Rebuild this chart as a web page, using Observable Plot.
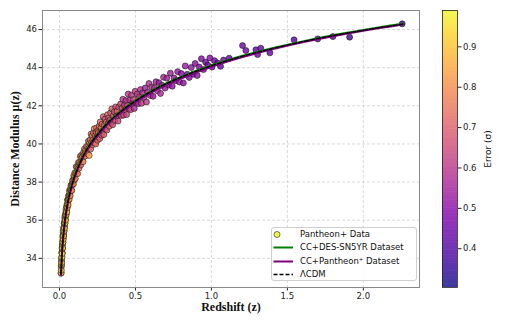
<!DOCTYPE html>
<html>
<head>
<meta charset="utf-8">
<script src="https://cdn.jsdelivr.net/npm/d3@7"></script>
<script src="https://cdn.jsdelivr.net/npm/@observablehq/plot@0.6"></script>
<style>
  html, body { margin: 0; padding: 0; background: #fff; }
  #wrap { position: relative; width: 523px; height: 327px; overflow: hidden; background: #fff; }
  #main, #cbar { position: absolute; top: 0; }
  #main { left: 0; }
  #cbar { left: 430px; }
  #legend { position: absolute; left: 271px; top: 227px; width: 146px; height: 54px;
    border: 1px solid #cfcfcf; border-radius: 3px; background: rgba(255,255,255,0.85);
    font-family: "DejaVu Sans", sans-serif; font-size: 8.5px; color: #111; box-sizing: border-box; }
  .row { position: absolute; left: 0; height: 13px; line-height: 13px; white-space: nowrap; }
  .row svg { position: absolute; left: 0; top: 0; }
  .row span { position: absolute; left: 28px; top: 0; }
</style>
</head>
<body>
<div id="wrap">
  <div id="main"></div>
  <div id="cbar"></div>
  <div id="legend"></div>
</div>
<script>
// ---------------- data (Pantheon+ points) ----------------
const zData = [
 0.0102,0.0108,0.0112,0.0118,0.0121,0.0127,0.0131,0.0138,0.0142,0.0149,
 0.0153,0.0158,0.0163,0.0169,0.0172,0.0178,0.0183,0.0188,0.0192,0.0199,
 0.0204,0.0211,0.0216,0.0222,0.0228,0.0235,0.0241,0.0247,0.0252,0.0259,
 0.0264,0.0271,0.0277,0.0283,0.0289,0.0296,0.0302,0.0309,0.0315,0.0322,
 0.0329,0.0336,0.0343,0.0351,0.0358,0.0366,0.0374,0.0382,0.0391,0.0399,
 0.0408,0.0417,0.0426,0.0435,0.0445,0.0455,0.0466,0.0477,0.0488,
 0.0501,0.0513,0.0526,0.0538,0.0551,0.0565,0.0578,0.0592,0.0607,0.0621,
 0.0636,0.0652,0.0668,0.0684,0.0701,0.0718,0.0736,0.0754,0.0773,0.0792,
 0.0811,0.0831,0.0852,0.0873,0.0894,0.0916,0.0939,0.0962,0.0986,
 0.101,0.104,0.107,0.110,0.113,0.116,0.119,0.122,0.125,0.128,
 0.131,0.134,0.137,0.140,0.143,0.146,0.149,0.152,0.155,0.158,
 0.161,0.164,0.167,0.170,0.174,0.178,0.182,0.186,0.190,0.194,
 0.195,0.198,
 0.202,0.205,0.208,0.211,0.214,0.217,0.220,0.223,0.226,0.229,
 0.232,0.235,0.238,0.241,0.244,0.247,0.250,0.253,0.256,0.259,
 0.262,0.265,0.268,0.271,0.274,0.277,0.280,0.284,0.288,0.292,
 0.296,0.300,0.304,0.308,0.312,0.316,0.320,0.324,0.328,0.332,
 0.336,0.340,0.345,0.350,0.355,0.360,0.365,0.370,0.375,0.380,
 0.385,0.390,0.395,
 0.402,0.407,0.412,0.417,0.422,0.427,0.432,0.437,0.442,0.447,
 0.452,0.457,0.462,0.468,0.474,0.480,0.486,0.492,0.498,0.505,
 0.512,0.519,0.526,0.533,0.540,0.548,0.556,0.564,0.572,0.580,
 0.589,0.598,0.607,0.616,0.625,0.635,0.645,0.655,0.665,0.675,
 0.685,0.695,
 0.706,0.718,0.730,0.742,0.754,0.766,0.778,0.790,0.802,0.815,
 0.828,0.841,0.854,0.867,0.880,0.893,0.906,0.920,0.934,0.948,
 0.962,0.976,0.990,1.004,1.02,1.04,1.06,1.08,1.117,
 1.205,1.227,1.293,1.304,1.325,1.385,1.544,1.70,1.80,1.91,2.256
];
const muData = [
 33.22,33.24,33.54,33.37,33.63,33.86,33.67,33.96,33.77,34.07,
 34.30,34.05,34.32,34.26,34.57,34.25,34.53,34.70,34.51,34.73,
 34.54,34.94,34.82,35.17,34.85,35.07,35.27,35.00,35.27,35.19,
 35.51,35.17,35.45,35.59,35.40,35.64,35.45,35.83,35.66,35.85,
 35.58,35.89,36.13,35.82,36.00,35.85,36.23,36.06,36.25,36.00,
 36.39,36.30,36.57,36.27,36.50,36.42,36.71,36.43,36.73,
 36.84,36.66,37.06,36.86,37.07,36.80,37.08,37.28,37.05,37.29,
 37.10,37.55,37.30,37.47,37.28,37.66,37.56,37.83,37.56,37.83,
 37.56,37.88,38.07,37.87,38.11,37.91,38.33,38.11,38.28,
 38.48,38.18,38.51,38.81,38.49,38.77,38.44,38.79,39.03,38.73,
 39.02,38.94,39.35,38.90,39.25,39.42,39.13,39.34,39.07,39.55,
 39.41,39.74,39.36,39.66,39.55,39.87,39.50,39.85,40.14,39.78,
 39.40,40.07,
 40.22,39.73,40.52,40.06,40.42,39.96,40.21,40.58,40.08,40.80,
 40.05,40.44,40.00,40.63,40.84,40.35,40.20,40.70,40.60,40.36,
 40.94,40.28,41.15,40.61,40.86,40.46,41.04,40.67,41.43,40.49,
 40.99,41.31,40.79,41.14,40.73,41.53,41.06,41.36,40.93,41.25,
 41.63,41.12,41.84,41.01,41.49,41.69,41.24,41.94,41.47,41.73,
 41.20,41.93,41.54,
 42.09,41.49,41.88,42.34,41.51,42.05,41.80,42.27,41.54,42.02,
 42.62,41.85,42.31,41.80,42.56,42.13,42.33,41.86,42.76,42.17,
 42.62,42.11,42.47,42.85,42.13,42.68,42.44,42.93,42.20,42.71,
 43.17,42.54,42.99,42.50,42.94,43.26,42.79,43.21,42.65,43.08,
 43.50,42.93,
 43.45,43.09,43.71,43.03,43.46,43.32,43.79,43.25,43.69,43.20,
 44.09,43.65,43.49,44.01,43.66,44.22,43.59,44.03,44.47,43.90,
 44.29,44.13,44.51,44.03,44.37,44.25,44.07,44.40,44.50,
 45.16,44.90,44.94,44.69,45.02,44.78,45.46,45.51,45.63,45.60,46.30
];
const errData = [
 0.95,0.91,0.97,0.93,0.89,0.96,0.92,0.94,0.90,0.97,
 0.93,0.96,0.91,0.95,0.88,0.94,0.97,0.92,0.90,0.95,
 0.93,0.89,0.96,0.91,0.94,0.92,0.97,0.90,0.93,0.88,
 0.95,0.91,0.94,0.89,0.96,0.92,0.90,0.93,0.87,0.95,
 0.91,0.89,0.94,0.92,0.88,0.93,0.90,0.86,0.92,0.89,
 0.91,0.87,0.93,0.88,0.90,0.86,0.89,0.92,0.87,
 0.88,0.84,0.90,0.85,0.82,0.87,0.89,0.83,0.86,0.81,
 0.88,0.84,0.80,0.86,0.83,0.87,0.81,0.85,0.82,0.84,
 0.79,0.86,0.82,0.80,0.84,0.81,0.83,0.79,0.82,
 0.82,0.79,0.84,0.77,0.80,0.83,0.78,0.81,0.76,0.80,
 0.82,0.77,0.79,0.75,0.81,0.78,0.76,0.80,0.83,0.77,
 0.75,0.79,0.81,0.76,0.78,0.74,0.80,0.77,0.75,0.79,
 0.84,0.76,
 0.76,0.73,0.78,0.71,0.75,0.77,0.72,0.74,0.70,0.76,
 0.73,0.71,0.75,0.69,0.74,0.72,0.77,0.70,0.73,0.68,
 0.75,0.71,0.72,0.69,0.74,0.67,0.71,0.73,0.68,0.70,
 0.72,0.66,0.70,0.73,0.68,0.71,0.67,0.69,0.72,0.66,
 0.70,0.68,0.71,0.65,0.69,0.67,0.70,0.66,0.68,0.71,
 0.65,0.67,0.69,
 0.65,0.62,0.67,0.60,0.64,0.61,0.66,0.59,0.63,0.65,
 0.60,0.62,0.58,0.64,0.61,0.59,0.63,0.57,0.61,0.59,
 0.62,0.56,0.60,0.58,0.61,0.57,0.59,0.55,0.60,0.57,
 0.58,0.56,0.59,0.54,0.57,0.55,0.58,0.53,0.56,0.54,
 0.57,0.53,
 0.55,0.52,0.54,0.51,0.53,0.50,0.52,0.54,0.49,0.51,
 0.53,0.48,0.50,0.52,0.47,0.49,0.51,0.46,0.48,0.50,
 0.45,0.47,0.49,0.44,0.46,0.45,0.43,0.45,0.44,
 0.44,0.45,0.43,0.46,0.44,0.43,0.41,0.42,0.40,0.38,0.35
];

// model curves
const curveZ = [0.01,0.012,0.014,0.016,0.018,0.02,0.023,0.026,0.029,0.032,0.035,0.038,0.041,0.045,0.05,0.055,0.06,0.065,0.07,0.075,
 0.08,0.09,0.1,0.11,0.12,0.135,0.15,0.165,0.18,0.2,0.22,0.24,0.26,0.28,0.3,0.32,0.34,0.36,0.38,0.4,
 0.43,0.46,0.5,0.54,0.58,0.62,0.66,0.7,0.75,0.8,0.85,0.9,0.95,1.0,1.2,1.4,1.6,1.8,2.0,2.26];
const lcdmMu = [33.18,33.58,33.91,34.21,34.47,34.70,35.00,35.27,35.51,35.73,35.92,36.11,36.29,36.50,36.73,36.95,37.15,37.33,37.50,37.66,
 37.80,38.07,38.31,38.53,38.73,39.01,39.27,39.50,39.71,39.96,40.19,40.40,40.59,40.78,40.96,41.12,41.28,41.42,41.55,41.68,
 41.87,42.04,42.26,42.46,42.65,42.83,43.00,43.15,43.33,43.50,43.66,43.82,43.96,44.10,44.59,45.00,45.36,45.68,45.96,46.28];
const desMu = [33.20,33.60,33.93,34.23,34.49,34.72,35.02,35.29,35.53,35.75,35.94,36.13,36.31,36.52,36.75,36.97,37.17,37.35,37.52,37.68,
 37.82,38.09,38.33,38.55,38.75,39.03,39.29,39.52,39.73,39.98,40.21,40.42,40.61,40.80,40.98,41.14,41.30,41.44,41.57,41.70,
 41.89,42.06,42.28,42.48,42.67,42.85,43.02,43.17,43.35,43.52,43.68,43.84,43.98,44.12,44.61,45.02,45.38,45.70,45.98,46.30];
const pantheonMu = [33.11,33.51,33.84,34.14,34.40,34.63,34.93,35.20,35.44,35.66,35.85,36.04,36.22,36.43,36.66,36.88,37.08,37.26,37.43,37.59,
 37.73,38.00,38.24,38.46,38.66,38.94,39.20,39.43,39.64,39.89,40.12,40.33,40.52,40.71,40.89,41.05,41.21,41.35,41.48,41.61,
 41.80,41.97,42.19,42.39,42.58,42.76,42.93,43.08,43.26,43.43,43.59,43.75,43.89,44.04,44.54,44.96,45.33,45.65,45.94,46.27];

// ticks / labels
const xTicks = [0, 0.5, 1.0, 1.5, 2.0];
const yTicks = [34, 36, 38, 40, 42, 44, 46];
const cbTicks = [0.4, 0.5, 0.6, 0.7, 0.8, 0.9];
const xDomain = [-0.112, 2.37];
const yDomain = [32.47, 47.0];
const errDomain = [0.304, 0.99];
const xLabel = "Redshift (z)";
const yLabel = "Distance Modulus μ(z)";
const cbLabel = "Error (σ)";
const legendLabels = ["Pantheon+ Data", "CC+DES-SN5YR Dataset", "CC+Pantheon\u207A Dataset", "\u039BCDM"];

// ---------------- build ----------------
const points = zData.map((z, i) => ({z, mu: muData[i], err: errData[i]}));
const curves = curveZ.map((z, i) => ({z, lcdm: lcdmMu[i], des: desMu[i], pan: pantheonMu[i]}));

const labelFont = {fontFamily: "Liberation Serif, DejaVu Serif, serif", fontWeight: "bold", fontSize: 12, fill: "#111", textAnchor: "middle"};

const main = Plot.plot({
  width: 430, height: 327,
  marginLeft: 42, marginRight: 11, marginTop: 10, marginBottom: 40,
  style: {fontFamily: "DejaVu Sans, sans-serif", fontSize: "8.5px", color: "#222", background: "#fff"},
  x: {domain: xDomain, ticks: xTicks, tickFormat: d3.format(".1f"), tickSize: 3.5, tickPadding: 2, label: null, line: true},
  y: {domain: yDomain, ticks: yTicks, tickFormat: d3.format("d"), tickSize: 3.5, tickPadding: 2, label: null, line: true},
  color: {type: "linear", scheme: "plasma", domain: errDomain},
  marks: [
    Plot.ruleX(xTicks, {stroke: "#cfcfcf", strokeDasharray: "3,2", strokeWidth: 0.8}),
    Plot.ruleY(yTicks, {stroke: "#cfcfcf", strokeDasharray: "3,2", strokeWidth: 0.8}),
    Plot.frame({stroke: "#888", strokeWidth: 1}),
    Plot.dot(points, {x: "z", y: "mu", fill: "err", r: 3, stroke: "#1a1a1a", strokeWidth: 0.6, fillOpacity: 0.8}),
    Plot.line(curves, {x: "z", y: "des", stroke: "#008000", strokeWidth: 2, curve: "monotone-x"}),
    Plot.line(curves, {x: "z", y: "pan", stroke: "#800080", strokeWidth: 2, curve: "monotone-x"}),
    Plot.line(curves, {x: "z", y: "lcdm", stroke: "#000", strokeWidth: 1.3, strokeDasharray: "4,2", curve: "monotone-x"}),
    Plot.text([yLabel], {text: d => d, frameAnchor: "left", dx: -27, rotate: -90, ...labelFont}),
    Plot.text([xLabel], {text: d => d, frameAnchor: "bottom", dy: 23, ...labelFont})
  ]
});
document.getElementById("main").appendChild(main);

// colorbar (plasma at 80% opacity over white, drawn opaque so steps do not overlap)
const fadedPlasma = t => d3.interpolateRgb("#ffffff", d3.interpolatePlasma(t))(0.8);
const cbSteps = d3.range(errDomain[0], errDomain[1], 0.004);
const cbar = Plot.plot({
  width: 93, height: 327,
  marginLeft: 12, marginRight: 66, marginTop: 10, marginBottom: 40,
  style: {fontFamily: "DejaVu Sans, sans-serif", fontSize: "8.5px", color: "#222", background: "transparent"},
  x: {domain: [0, 1], axis: null},
  y: {domain: errDomain, axis: "right", ticks: cbTicks, tickFormat: d3.format(".1f"), tickSize: 3.5, tickPadding: 2, label: null},
  color: {type: "linear", domain: errDomain, interpolate: fadedPlasma},
  marks: [
    Plot.rect(cbSteps, {x1: 0, x2: 1, y1: d => d, y2: d => Math.min(d + 0.0055, errDomain[1]), fill: d => d}),
    Plot.frame({stroke: "#222", strokeWidth: 0.8}),
    Plot.text([cbLabel], {text: d => d, frameAnchor: "right", dx: 31, rotate: -90, textAnchor: "middle", fontSize: 9, fill: "#111"})
  ]
});
document.getElementById("cbar").appendChild(cbar);

// legend (HTML)
const legend = document.getElementById("legend");
const plasma = d3.interpolatePlasma;
const symbols = [
  `<svg width="28" height="13"><circle cx="5" cy="6.5" r="3" fill="${plasma(1)}" fill-opacity="0.8" stroke="#1a1a1a" stroke-width="0.6"/></svg>`,
  `<svg width="28" height="13"><line x1="1.5" x2="21" y1="6.5" y2="6.5" stroke="#008000" stroke-width="2"/></svg>`,
  `<svg width="28" height="13"><line x1="1.5" x2="21" y1="6.5" y2="6.5" stroke="#800080" stroke-width="2"/></svg>`,
  `<svg width="28" height="13"><line x1="1.5" x2="21" y1="6.5" y2="6.5" stroke="#000" stroke-width="1.3" stroke-dasharray="4,2"/></svg>`
];
legendLabels.forEach((lab, i) => {
  const row = document.createElement("div");
  row.className = "row";
  row.style.top = (i * 13.3) + "px";
  row.innerHTML = symbols[i] + `<span>${lab}</span>`;
  legend.appendChild(row);
});
</script>
</body>
</html>
